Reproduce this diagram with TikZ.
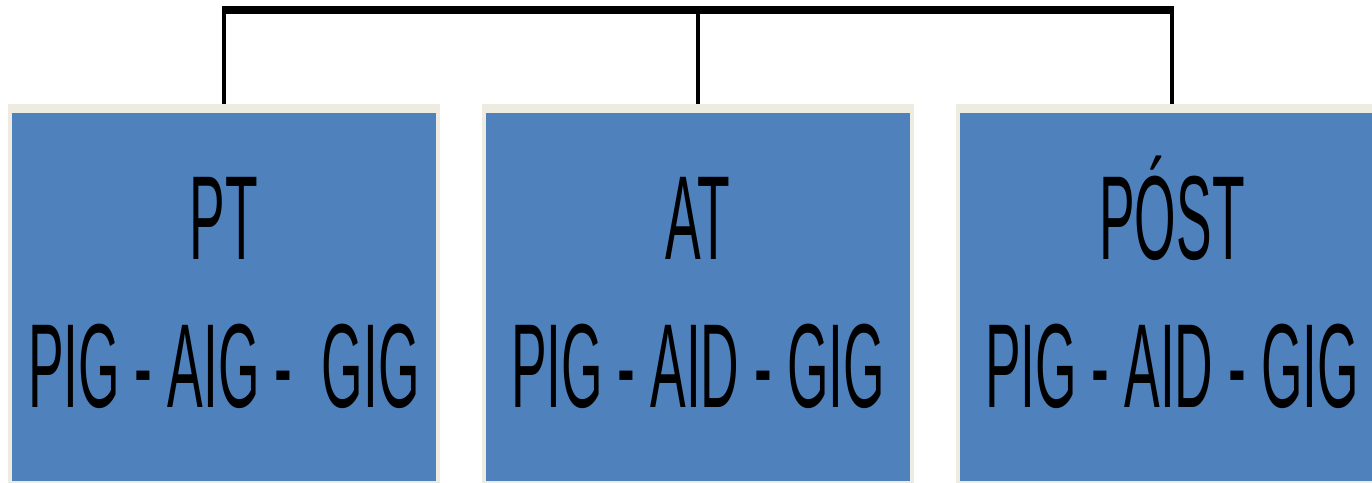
\documentclass[tikz,border=0pt]{standalone}
\usepackage{fontspec}
\setmainfont{Liberation Sans}[FakeStretch=0.447]
\usetikzlibrary{calc}
\definecolor{boxblue}{HTML}{4F81BD}
\definecolor{boxrim}{HTML}{EEECE1}

\begin{document}
\begin{tikzpicture}[x=0.02cm,y=-0.02cm]
	\useasboundingbox (0,0) rectangle (1372,483);
	\tikzset{rim/.style={fill=boxrim,inner sep=0,minimum width=8.66cm,minimum height=7.58cm},
		inner/.style={fill=boxblue,inner sep=0,minimum width=8.48cm,minimum height=7.36cm},
		lbl/.style={anchor=base,inner sep=0,font=\fontsize{68}{82}\selectfont}}
	\foreach \x/\n/\a/\b in {224/1/PT/{PIG - AIG -~ GIG},698/2/AT/{PIG - AID - GIG},1172/3/PÓST/{PIG - AID - GIG}} {
		\node[rim] (rim\n) at (\x,293.5) {};
		\node[inner] (box\n) at (\x,297) {};
		\node[lbl] (head\n) at (\x,259) {\a};
		\node[lbl] (sub\n) at (\x,407) {\b};
	}
	\coordinate (bar) at (0,10);
	\draw[line width=4.5pt,shorten <=-1pt,shorten >=-1pt] (rim1.north |- bar) -- (rim3.north |- bar);
	\foreach \n in {1,2,3}
		\draw[line width=2pt] (rim\n.north |- bar) -- (rim\n.north);
\end{tikzpicture}
\end{document}
